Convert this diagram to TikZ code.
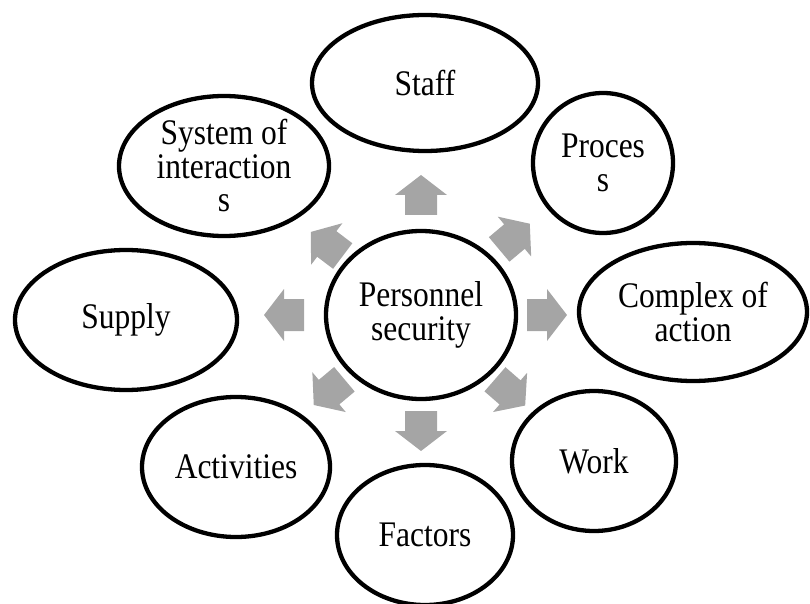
\documentclass[tikz,border=0pt]{standalone}
\usepackage{fontspec}
\setmainfont[FakeStretch=0.875]{Liberation Serif}
\usetikzlibrary{shapes.geometric,calc}
\definecolor{arrowgray}{HTML}{A5A5A5}
\begin{document}
\begin{tikzpicture}[x=1pt,y=1pt,
  bub/.style={draw=black, line width=4.3pt, ellipse, inner sep=0pt, align=center,
    font=\fontsize{36}{33.5}\selectfont},
  blockarrow/.style={fill=arrowgray}]
\useasboundingbox (0,0) rectangle (810,603);
\node[bub, minimum width=190, minimum height=168] (c) at (421,288) {Personnel\\security};
\node[bub, minimum width=226, minimum height=136] (staff) at (425,520) {Staff};
\node[bub, minimum width=140, minimum height=140] (proc) at (603,440) {Proces\\s};
\node[bub, minimum width=228, minimum height=138] (cplx) at (693,291) {Complex of\\action};
\node[bub, minimum width=164, minimum height=140] (work) at (594,142) {Work};
\node[bub, minimum width=176, minimum height=140] (fact) at (425,68) {Factors};
\node[bub, minimum width=188, minimum height=140] (act) at (236,136) {Activities};
\node[bub, minimum width=222, minimum height=140] (sup) at (126,283) {Supply};
\node[bub, minimum width=210, minimum height=140] (sys) at (224,437) {System of\\interaction\\s};
\foreach \a/\d in {90/120, 40/122, 0/126, -41/118, -90/116, -140/120, 180/137, 143/118}{
  \fill[blockarrow, shift={($(c.center)+(\a:\d)$)}, rotate=\a]
    (-20,-16) -- (0,-16) -- (0,-26) -- (20,0) -- (0,26) -- (0,16) -- (-20,16) -- cycle;
}
\end{tikzpicture}
\end{document}
